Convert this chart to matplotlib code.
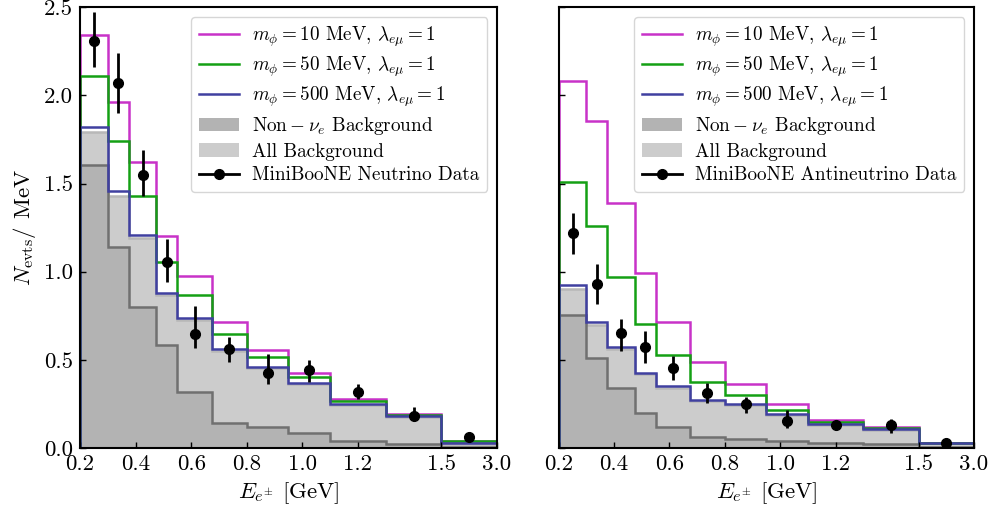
import numpy as np
import matplotlib
matplotlib.use("Agg")
import matplotlib.pyplot as plt
from matplotlib.lines import Line2D

plt.rcParams['font.family'] = 'serif'
plt.rcParams['font.serif'] = ['cmr10']
plt.rcParams['mathtext.fontset'] = 'cm'
plt.rcParams['axes.formatter.use_mathtext'] = True
plt.rcParams['font.size'] = 14

# bin edges (last bin 1.5-3.0 GeV is drawn squeezed to 1.5-1.7)
edges = [0.2, 0.3, 0.375, 0.475, 0.55, 0.675, 0.8, 0.95, 1.1, 1.3, 1.5, 1.7]
tick_pos = [0.2, 0.4, 0.6, 0.8, 1.0, 1.2, 1.5, 1.7]
tick_lab = ["0.2", "0.4", "0.6", "0.8", "1.0", "1.2", "1.5", "3.0"]

# neutrino mode
nu_m10 = [2.34, 1.96, 1.62, 1.20, 0.974, 0.717, 0.557, 0.428, 0.28, 0.194, 0.04]
nu_m50 = [2.11, 1.74, 1.43, 1.053, 0.866, 0.645, 0.515, 0.401, 0.265, 0.188, 0.037]
nu_m500 = [1.82, 1.46, 1.21, 0.88, 0.736, 0.56, 0.462, 0.37, 0.25, 0.179, 0.03]
nu_allbg = [1.79, 1.43, 1.19, 0.87, 0.728, 0.552, 0.455, 0.364, 0.245, 0.174, 0.025]
nu_nonnue = [1.607, 1.14, 0.80, 0.587, 0.317, 0.14, 0.118, 0.084, 0.039, 0.024, 0.008]
nu_data = [2.31, 2.07, 1.55, 1.053, 0.647, 0.562, 0.424, 0.44, 0.317, 0.18, 0.061]
nu_err_up = [0.16, 0.17, 0.14, 0.13, 0.16, 0.07, 0.11, 0.06, 0.047, 0.05, 0.01]
nu_err_dn = [0.15, 0.17, 0.12, 0.11, 0.08, 0.075, 0.06, 0.067, 0.038, 0.02, 0.01]

# antineutrino mode
an_m10 = [2.083, 1.853, 1.39, 0.995, 0.717, 0.49, 0.364, 0.247, 0.16, 0.118, 0.03]
an_m50 = [1.51, 1.261, 0.968, 0.704, 0.528, 0.373, 0.303, 0.217, 0.149, 0.112, 0.03]
an_m500 = [0.925, 0.717, 0.571, 0.428, 0.349, 0.273, 0.247, 0.194, 0.137, 0.105, 0.03]
an_allbg = [0.90, 0.70, 0.562, 0.42, 0.343, 0.268, 0.243, 0.19, 0.133, 0.102, 0.026]
an_nonnue = [0.755, 0.509, 0.341, 0.197, 0.118, 0.065, 0.05, 0.037, 0.027, 0.02, 0.008]
an_data = [1.22, 0.931, 0.651, 0.571, 0.455, 0.311, 0.247, 0.152, 0.133, 0.133, 0.031]
an_err_up = [0.113, 0.113, 0.081, 0.095, 0.064, 0.056, 0.045, 0.065, 0.01, 0.032, 0.005]
an_err_dn = [0.12, 0.114, 0.102, 0.091, 0.068, 0.057, 0.05, 0.037, 0.01, 0.049, 0.005]

c10 = '#c832c8'
c50 = '#14a014'
c500 = '#4040a0'
c_all = '#cccccc'
c_non = '#b3b3b3'


def panel(ax, m10, m50, m500, allbg, nonnue, data, eup, edn, dlabel):
    centers = [(edges[i] + edges[i + 1]) / 2 for i in range(len(edges) - 1)]
    h_all = ax.stairs(allbg, edges, fill=True, color=c_all)
    ax.stairs(allbg, edges, color='#b8b8b8', lw=1.8)
    h_non = ax.stairs(nonnue, edges, fill=True, color=c_non)
    ax.stairs(nonnue, edges, color='#707070', lw=1.8)
    h10 = ax.stairs(m10, edges, color=c10, lw=1.8)
    h50 = ax.stairs(m50, edges, color=c50, lw=1.8)
    h500 = ax.stairs(m500, edges, color=c500, lw=1.8)
    ax.errorbar(centers, data, yerr=[edn, eup], fmt='o', color='k', ms=7,
                elinewidth=2, capsize=0, zorder=5)
    h_dat = Line2D([], [], color='k', marker='o', ms=7, lw=2)

    ax.legend([h10, h50, h500, h_non, h_all, h_dat],
              [r'$m_\phi = 10$ MeV, $\lambda_{e\mu} = 1$',
               r'$m_\phi = 50$ MeV, $\lambda_{e\mu} = 1$',
               r'$m_\phi = 500$ MeV, $\lambda_{e\mu} = 1$',
               r'$\mathrm{Non}-\nu_e$ Background',
               'All Background', dlabel],
              loc='upper right', fontsize=13.8, handlelength=2.1,
              handletextpad=0.7, borderaxespad=0.5, labelspacing=0.3)

    ax.set_xlim(0.2, 1.7)
    ax.set_ylim(0, 2.5)
    ax.set_xticks(tick_pos)
    ax.set_xticklabels(tick_lab)
    ax.set_yticks([0, 0.5, 1.0, 1.5, 2.0, 2.5])
    ax.tick_params(direction='in', length=4.5, width=1, labelsize=16.5, pad=5)
    ax.set_xlabel(r'$E_{e^{\pm}}$ [GeV]', fontsize=16.5)
    for s in ax.spines.values():
        s.set_linewidth(1.5)


fig = plt.figure(figsize=(9.9, 5.14), dpi=100)
ax1 = fig.add_axes([0.0808, 0.1284, 0.4212, 0.8576])
ax2 = fig.add_axes([0.5643, 0.1284, 0.4195, 0.8576])

panel(ax1, nu_m10, nu_m50, nu_m500, nu_allbg, nu_nonnue, nu_data, nu_err_up, nu_err_dn,
      'MiniBooNE Neutrino Data')
panel(ax2, an_m10, an_m50, an_m500, an_allbg, an_nonnue, an_data, an_err_up, an_err_dn,
      'MiniBooNE Antineutrino Data')

ax1.set_yticklabels(['0.0', '0.5', '1.0', '1.5', '2.0', '2.5'])
ax1.set_ylabel(r'$N_{\rm evts}$/ MeV', fontsize=16.5, labelpad=4)
ax2.set_yticklabels([])

fig.savefig('out.png', dpi=100)
